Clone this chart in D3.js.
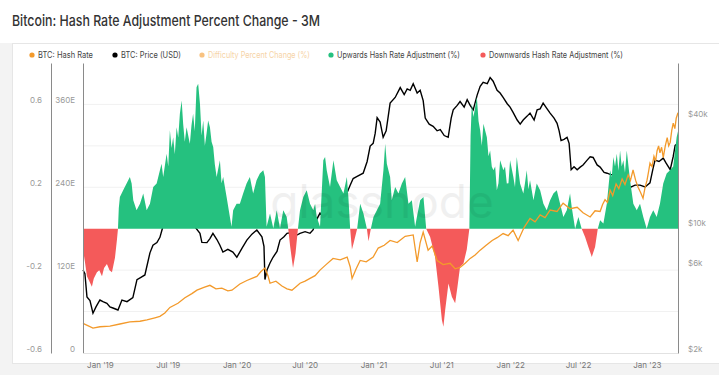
<!DOCTYPE html>
<html>
<head>
<meta charset="utf-8">
<script src="https://cdn.jsdelivr.net/npm/d3@7"></script>
<style>
  body { margin: 0; background: #fff; }
  text { font-family: Inter, "Open Sans", sans-serif; }
</style>
</head>
<body>
<div id="chart"></div>
<script>
// decimal year, value
var pctChange = [
  [2018.876,-0.10],[2018.890,-0.16],[2018.905,-0.23],[2018.920,-0.25],[2018.941,-0.28],[2018.955,-0.24],
  [2018.978,-0.21],[2018.995,-0.20],[2019.015,-0.23],[2019.030,-0.19],[2019.051,-0.17],[2019.070,-0.20],
  [2019.088,-0.21],[2019.110,-0.14],[2019.125,-0.05],[2019.132,0.0],[2019.138,0.10],[2019.146,0.153],
  [2019.170,0.186],[2019.195,0.218],[2019.219,0.25],[2019.232,0.218],[2019.244,0.137],[2019.268,0.089],
  [2019.293,0.121],[2019.317,0.17],[2019.342,0.089],[2019.366,0.121],[2019.390,0.201],[2019.415,0.218],
  [2019.439,0.282],[2019.451,0.314],[2019.463,0.25],[2019.488,0.362],[2019.500,0.30],[2019.512,0.475],
  [2019.524,0.39],[2019.536,0.442],[2019.548,0.36],[2019.561,0.49],[2019.573,0.44],[2019.585,0.555],
  [2019.598,0.619],[2019.609,0.507],[2019.621,0.42],[2019.634,0.49],[2019.658,0.41],[2019.670,0.50],
  [2019.682,0.555],[2019.694,0.47],[2019.707,0.683],[2019.719,0.70],[2019.732,0.603],[2019.744,0.45],
  [2019.756,0.523],[2019.768,0.40],[2019.780,0.459],[2019.792,0.523],[2019.805,0.49],[2019.817,0.42],
  [2019.829,0.394],[2019.841,0.31],[2019.854,0.25],[2019.878,0.33],[2019.890,0.22],[2019.902,0.25],
  [2019.927,0.153],[2019.951,0.057],[2019.963,0.009],[2019.975,0.089],[2020.000,0.121],[2020.024,0.121],
  [2020.048,0.17],[2020.073,0.218],[2020.097,0.25],[2020.121,0.17],[2020.146,0.234],[2020.170,0.266],
  [2020.195,0.282],[2020.207,0.25],[2020.219,0.009],[2020.244,0.073],[2020.268,0.002],[2020.293,0.089],
  [2020.317,0.002],[2020.341,0.089],[2020.366,0.057],[2020.377,0.0],[2020.390,-0.08],[2020.412,-0.19],
  [2020.430,-0.12],[2020.448,0.0],[2020.463,0.089],[2020.487,0.153],[2020.512,0.186],[2020.536,0.121],
  [2020.560,0.089],[2020.573,0.121],[2020.585,0.057],[2020.609,0.009],[2020.633,0.33],[2020.646,0.346],
  [2020.658,0.282],[2020.682,0.201],[2020.707,0.33],[2020.731,0.234],[2020.756,0.201],[2020.780,0.17],
  [2020.805,0.25],[2020.816,0.153],[2020.829,0.0],[2020.842,-0.10],[2020.854,-0.07],[2020.880,0.0],
  [2020.902,0.121],[2020.926,0.073],[2020.951,0.0],[2020.963,-0.06],[2020.980,0.0],[2020.999,0.057],
  [2021.024,0.089],[2021.048,0.121],[2021.072,0.282],[2021.085,0.41],[2021.097,0.314],[2021.121,0.25],
  [2021.133,0.137],[2021.158,0.201],[2021.182,0.17],[2021.207,0.218],[2021.231,0.25],[2021.255,0.121],
  [2021.280,0.137],[2021.304,0.009],[2021.317,0.057],[2021.341,0.137],[2021.365,0.153],[2021.385,0.0],
  [2021.414,-0.04],[2021.450,-0.136],[2021.475,-0.28],[2021.500,-0.441],[2021.511,-0.473],[2021.524,-0.393],
  [2021.548,-0.264],[2021.573,-0.328],[2021.597,-0.36],[2021.614,-0.28],[2021.633,-0.184],[2021.658,-0.168],
  [2021.682,-0.10],[2021.701,0.0],[2021.710,0.45],[2021.719,0.603],[2021.731,0.539],[2021.756,0.635],
  [2021.768,0.52],[2021.780,0.475],[2021.792,0.40],[2021.804,0.507],[2021.829,0.442],[2021.841,0.35],
  [2021.853,0.378],[2021.865,0.30],[2021.877,0.282],[2021.890,0.30],[2021.902,0.186],[2021.914,0.22],
  [2021.926,0.33],[2021.950,0.282],[2021.962,0.30],[2021.975,0.218],[2021.987,0.22],[2021.999,0.33],
  [2022.023,0.25],[2022.035,0.20],[2022.048,0.346],[2022.060,0.28],[2022.072,0.218],[2022.096,0.17],
  [2022.108,0.22],[2022.121,0.282],[2022.133,0.19],[2022.145,0.234],[2022.170,0.137],[2022.194,0.218],
  [2022.219,0.186],[2022.243,0.121],[2022.267,0.089],[2022.292,0.137],[2022.316,0.17],[2022.341,0.186],
  [2022.365,0.121],[2022.389,0.057],[2022.414,0.089],[2022.438,0.17],[2022.450,0.105],[2022.475,0.0],
  [2022.499,0.057],[2022.523,0.0],[2022.548,-0.04],[2022.572,-0.088],[2022.597,-0.136],[2022.621,-0.088],
  [2022.641,0.0],[2022.658,0.041],[2022.682,0.025],[2022.707,0.121],[2022.731,0.282],[2022.743,0.25],
  [2022.755,0.346],[2022.767,0.30],[2022.780,0.362],[2022.792,0.28],[2022.804,0.378],[2022.816,0.30],
  [2022.828,0.33],[2022.840,0.27],[2022.853,0.378],[2022.877,0.234],[2022.901,0.121],
  [2022.926,0.089],[2022.950,0.121],[2022.974,0.057],[2022.999,0.0],[2023.023,0.057],[2023.047,0.089],
  [2023.072,0.057],[2023.096,0.121],[2023.120,0.218],[2023.145,0.266],[2023.169,0.282],[2023.193,0.30],
  [2023.218,0.442],[2023.228,0.47]
];

// EH/s
var hashRate = [
  [2018.876,43],[2018.949,36],[2019.000,38],[2019.073,39],[2019.146,42],[2019.219,45],[2019.293,46],
  [2019.344,48],[2019.402,51],[2019.439,53],[2019.475,58],[2019.512,66],[2019.571,72],[2019.622,80],
  [2019.673,86],[2019.710,91],[2019.761,95],[2019.805,98],[2019.849,93],[2019.892,94],[2019.936,90],
  [2019.966,91],[2020.024,100],[2020.075,105],[2020.112,108],[2020.148,111],[2020.178,118],[2020.207,123],
  [2020.229,112],[2020.244,101],[2020.287,104],[2020.331,97],[2020.368,93],[2020.404,91],[2020.434,96],
  [2020.463,101],[2020.500,104],[2020.536,108],[2020.573,112],[2020.609,120],[2020.653,128],[2020.704,137],
  [2020.756,135],[2020.807,139],[2020.829,125],[2020.843,108],[2020.873,122],[2020.902,134],[2020.946,132],
  [2020.997,139],[2021.034,152],[2021.078,156],[2021.121,163],[2021.173,160],[2021.231,169],[2021.290,171],
  [2021.319,132],[2021.341,160],[2021.363,175],[2021.399,149],[2021.429,155],[2021.465,134],[2021.509,128],
  [2021.560,130],[2021.597,122],[2021.633,124],[2021.670,130],[2021.707,137],[2021.743,142],[2021.780,149],
  [2021.824,156],[2021.868,163],[2021.904,167],[2021.948,173],[2021.985,170],[2022.021,178],[2022.058,163],
  [2022.102,182],[2022.145,195],[2022.182,190],[2022.219,200],[2022.255,196],[2022.292,207],[2022.343,205],
  [2022.387,217],[2022.438,209],[2022.490,211],[2022.533,203],[2022.585,197],[2022.621,206],[2022.658,205],
  [2022.676,215],[2022.694,222],[2022.712,218],[2022.731,236],[2022.750,228],[2022.775,245],[2022.795,238],
  [2022.819,252],[2022.840,244],[2022.863,258],[2022.880,250],[2022.899,265],[2022.918,250],[2022.936,240],
  [2022.955,232],[2022.972,224],[2022.987,240],[2023.001,250],[2023.012,262],[2023.023,275],[2023.038,270],
  [2023.052,285],[2023.064,278],[2023.075,293],[2023.086,300],[2023.096,290],[2023.108,298],[2023.120,283],
  [2023.135,300],[2023.149,312],[2023.160,300],[2023.171,305],[2023.182,322],[2023.193,333],[2023.205,325],
  [2023.215,340],[2023.228,348]
];

// USD
var price = [
  [2018.876,5760],[2018.890,5500],[2018.905,4090],[2018.927,3900],[2018.949,3320],[2018.971,3600],
  [2019.000,3930],[2019.022,3850],[2019.051,3770],[2019.073,3600],[2019.095,3550],[2019.132,3460],
  [2019.161,3930],[2019.198,3850],[2019.241,4050],[2019.271,5100],[2019.300,5250],[2019.329,5410],
  [2019.366,7170],[2019.388,7900],[2019.417,8170],[2019.439,8740],[2019.454,9600],[2019.483,11500],
  [2019.512,12000],[2019.549,11000],[2019.585,10500],[2019.622,10800],[2019.658,10200],[2019.695,10000],
  [2019.732,9200],[2019.746,8200],[2019.783,8170],[2019.805,8600],[2019.827,9200],[2019.856,8500],
  [2019.878,7900],[2019.900,7240],[2019.936,7500],[2019.973,7240],[2020.002,6780],[2020.039,7600],
  [2020.075,8440],[2020.112,9100],[2020.148,9600],[2020.185,8800],[2020.200,7800],[2020.207,5100],
  [2020.222,5760],[2020.244,6300],[2020.266,6780],[2020.295,7300],[2020.317,8440],[2020.346,8800],
  [2020.368,9200],[2020.412,9320],[2020.441,9000],[2020.463,9200],[2020.500,9400],[2020.536,9200],
  [2020.558,9600],[2020.588,11100],[2020.609,11900],[2020.639,11500],[2020.658,11300],[2020.682,10500],
  [2020.704,10700],[2020.734,11500],[2020.778,13300],[2020.807,15500],[2020.829,17000],[2020.851,18500],
  [2020.880,19000],[2020.924,19800],[2020.953,23000],[2020.975,28000],[2020.997,29000],[2021.012,33000],
  [2021.026,40200],[2021.048,38000],[2021.070,31300],[2021.092,34000],[2021.121,48400],[2021.158,52000],
  [2021.195,59000],[2021.224,54000],[2021.246,58000],[2021.268,57000],[2021.290,62000],[2021.319,55000],
  [2021.341,57000],[2021.363,50000],[2021.378,40000],[2021.407,37000],[2021.436,36000],[2021.465,34000],
  [2021.488,34500],[2021.517,32000],[2021.546,31300],[2021.568,40000],[2021.583,44400],[2021.612,47000],
  [2021.633,49400],[2021.663,46000],[2021.685,50500],[2021.707,47000],[2021.729,44400],[2021.758,53600],
  [2021.780,60000],[2021.802,63000],[2021.832,62000],[2021.853,67000],[2021.875,64000],[2021.904,57000],
  [2021.926,55000],[2021.948,52000],[2021.978,48000],[2021.999,46000],[2022.021,43000],[2022.051,39000],
  [2022.073,37000],[2022.095,39000],[2022.124,41000],[2022.145,42600],[2022.175,39000],[2022.197,44400],
  [2022.219,45000],[2022.241,48400],[2022.270,45000],[2022.292,42600],[2022.321,40000],[2022.343,37400],
  [2022.358,34000],[2022.372,30000],[2022.394,30500],[2022.416,31300],[2022.431,29000],[2022.446,20700],
  [2022.467,21500],[2022.490,20700],[2022.512,21400],[2022.533,22000],[2022.563,23400],[2022.585,24400],
  [2022.607,24200],[2022.636,22000],[2022.658,21400],[2022.687,20000],[2022.709,19800],[2022.731,19500],
  [2022.753,19400],[2022.782,19300],[2022.804,20500],[2022.826,20300],[2022.848,16800],[2022.877,16500],
  [2022.914,17000],[2022.950,17000],[2022.987,16600],[2023.023,17500],[2023.045,21000],[2023.060,23400],
  [2023.089,23000],[2023.120,24000],[2023.141,22500],[2023.171,20700],[2023.193,24500],[2023.207,28200],
  [2023.228,29000]
];

var pctTicks = [0.6, 0.2, -0.2, -0.6];
var hashTicks = [360, 240, 120, 0];
var priceTicks = [40000, 10000, 6000, 2000];
var legendItems = [
  ["BTC: Hash Rate", "#f39a2b", false],
  ["BTC: Price (USD)", "#000000", false],
  ["Difficulty Percent Change (%)", "#f39a2b", true],
  ["Upwards Hash Rate Adjustment (%)", "#25c17f", false],
  ["Downwards Hash Rate Adjustment (%)", "#f45a5a", false]
];

function toDate(t) {
  var y = Math.floor(t);
  var a = Date.UTC(y, 0, 1), b = Date.UTC(y + 1, 0, 1);
  return new Date(a + (t - y) * (b - a));
}

var W = 719, H = 375;
var plotL = 83, plotR = 678, plotT = 63, plotB = 353;

var svg = d3.select("#chart").append("svg")
  .attr("width", W).attr("height", H);

// panel
svg.append("rect").attr("x", 0).attr("y", 0).attr("width", W).attr("height", H).attr("fill", "#f3f3f3");
svg.append("rect").attr("x", 0).attr("y", 0).attr("width", W).attr("height", 43).attr("fill", "#fff");
svg.append("rect").attr("x", 12.5).attr("y", 43.5).attr("width", W).attr("height", 320)
  .attr("fill", "#fff").attr("stroke", "#e6e6e6");

svg.append("text").attr("x", 12).attr("y", 26)
  .attr("font-size", 15).attr("fill", "#333").attr("font-weight", 500)
  .attr("textLength", 308).attr("lengthAdjust", "spacingAndGlyphs")
  .text("Bitcoin: Hash Rate Adjustment Percent Change - 3M");

// legend
var legX = [32, 115, 202, 331, 483];
var legW = [55, 60, 102, 123, 134];
legendItems.forEach(function(d, i) {
  svg.append("circle").attr("cx", legX[i]).attr("cy", 55).attr("r", 2.6)
    .attr("fill", d[1]).attr("opacity", d[2] ? 0.6 : 1);
  svg.append("text").attr("x", legX[i] + 6).attr("y", 58)
    .attr("font-size", 8.5).attr("fill", d[2] ? "#f6d3a6" : "#444")
    .attr("textLength", legW[i]).attr("lengthAdjust", "spacingAndGlyphs")
    .text(d[0]);
});

var x = d3.scaleUtc().domain([toDate(2018.876), toDate(2023.228)]).range([plotL, plotR]);
var yPct = d3.scaleLinear().domain([-0.6, 0.8]).range([plotB, plotT]);
var yHash = d3.scaleLinear().domain([0, 420]).range([plotB, plotT]);
var yPrice = d3.scaleLog().domain([2000, 80700]).range([plotB, plotT]);

// grid
svg.append("g").selectAll("line")
  .data([-0.4, -0.2, 0.2, 0.4, 0.6])
  .enter().append("line")
  .attr("x1", plotL).attr("x2", plotR)
  .attr("y1", function(d) { return yPct(d); })
  .attr("y2", function(d) { return yPct(d); })
  .attr("stroke", "#f1f1f1");

// price line (under the areas)
svg.append("path").datum(price)
  .attr("fill", "none").attr("stroke", "#000").attr("stroke-width", 1.4)
  .attr("d", d3.line()
    .x(function(d) { return x(toDate(d[0])); })
    .y(function(d) { return yPrice(d[1]); }));

svg.append("path").datum(pctChange)
  .attr("fill", "#25c17f")
  .attr("d", d3.area()
    .x(function(d) { return x(toDate(d[0])); })
    .y0(yPct(0))
    .y1(function(d) { return yPct(Math.max(d[1], 0)); }));

svg.append("path").datum(pctChange)
  .attr("fill", "#f45a5a")
  .attr("d", d3.area()
    .x(function(d) { return x(toDate(d[0])); })
    .y0(yPct(0))
    .y1(function(d) { return yPct(Math.min(d[1], 0)); }));

svg.append("path").datum(hashRate)
  .attr("fill", "none").attr("stroke", "#f39a2b").attr("stroke-width", 1.3)
  .attr("d", d3.line()
    .x(function(d) { return x(toDate(d[0])); })
    .y(function(d) { return yHash(d[1]); }));

// watermark
svg.append("text").attr("x", 382).attr("y", 218).attr("text-anchor", "middle")
  .attr("font-size", 46).attr("fill", "#000").attr("opacity", 0.055)
  .text("glassnode");

// axes
function styleAxis(g) {
  g.select(".domain").attr("stroke", "#8a8a8a");
  g.selectAll("text").attr("fill", "#999").attr("font-size", 8).attr("y", -4);
}

var axPct = svg.append("g").attr("transform", "translate(51,0)")
  .call(d3.axisLeft(yPct).tickValues(pctTicks).tickSize(0).tickSizeOuter(0).tickPadding(9)
    .tickFormat(function(d) { return String(d); }));
styleAxis(axPct);

var axHash = svg.append("g").attr("transform", "translate(" + plotL + ",0)")
  .call(d3.axisLeft(yHash).tickValues(hashTicks).tickSize(0).tickSizeOuter(0).tickPadding(8)
    .tickFormat(function(d) { return d === 0 ? "0" : d + "E"; }));
styleAxis(axHash);

var axPrice = svg.append("g").attr("transform", "translate(" + plotR + ",0)")
  .call(d3.axisRight(yPrice).tickValues(priceTicks).tickSize(0).tickSizeOuter(0).tickPadding(10)
    .tickFormat(function(d) { return "$" + (d / 1000) + "k"; }));
styleAxis(axPrice);

svg.append("line").attr("x1", plotL).attr("x2", plotR).attr("y1", plotB + 0.5).attr("y2", plotB + 0.5)
  .attr("stroke", "#e2e2e2");

var xTicks = [];
for (var yr = 2019; yr <= 2023; yr++) {
  xTicks.push(new Date(Date.UTC(yr, 0, 1)));
  if (yr < 2023) xTicks.push(new Date(Date.UTC(yr, 6, 1)));
}
var axX = svg.append("g").attr("transform", "translate(0," + plotB + ")")
  .call(d3.axisBottom(x).tickValues(xTicks).tickSize(0).tickPadding(9)
    .tickFormat(d3.utcFormat("%b '%y")));
axX.select(".domain").remove();
axX.selectAll("text").attr("fill", "#777").attr("font-size", 8);
</script>
</body>
</html>
